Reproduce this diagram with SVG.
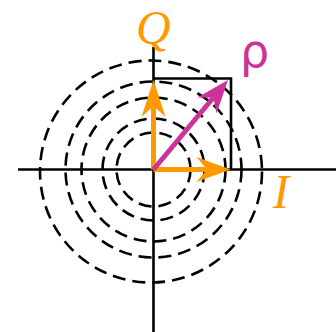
<svg xmlns="http://www.w3.org/2000/svg" width="336" height="332" viewBox="0 0 336 332">
<style>
.c{fill:none;stroke:#000;stroke-width:2.6;stroke-dasharray:13 7}
.ax{fill:none;stroke:#000;stroke-width:2.6}
.or{stroke:#FF9900;stroke-width:5;fill:none}
.orh{fill:#FF9900}
.mg{stroke:#CC3399;stroke-width:5;fill:none}
.mgh{fill:#CC3399}
.lbl{font-family:"Liberation Serif",serif;font-style:italic;font-size:48px}
</style>
<g id="circles">
<circle class="c" cx="151" cy="171.5" r="111"/>
<circle class="c" cx="153.5" cy="169.5" r="88"/>
<circle class="c" cx="153.5" cy="169.5" r="72"/>
<circle class="c" cx="153.5" cy="169.5" r="51"/>
<circle class="c" cx="153.5" cy="169.5" r="37"/>
</g>
<g id="axes">
<line class="ax" x1="18" y1="169.5" x2="336" y2="169.5"/>
<line class="ax" x1="153.5" y1="47" x2="153.5" y2="332"/>
<polyline class="ax" points="153.5,78.5 231,78.5 231,169.5"/>
</g>
<g id="connectors">
<g id="arrow-Q">
<line class="or" x1="153.5" y1="169.5" x2="153.5" y2="106"/>
<path class="orh" d="M153.5,80 L165.5,117 L153.5,106 L141.5,117 Z"/>
</g>
<g id="arrow-I">
<line class="or" x1="153.5" y1="169.5" x2="208" y2="169.5"/>
<path class="orh" d="M230.5,169.5 L196.5,157 L207,169.5 L196.5,182 Z"/>
</g>
<g id="arrow-rho">
<line class="mg" x1="153.5" y1="169.5" x2="213" y2="98"/>
<path class="mgh" d="M228,80 L216.6,113.4 L213.4,97.8 L197.4,97.6 Z"/>
</g>
</g>
<g id="label-Q"><text class="lbl" x="136" y="44" fill="#FF9900">Q</text></g>
<g id="label-I"><text class="lbl" x="273" y="208" fill="#FF9900">I</text></g>
<g id="label-rho"><text x="240" y="67" fill="#CC3399" font-family="'DejaVu Sans',sans-serif" font-size="46">ρ</text></g>
</svg>
